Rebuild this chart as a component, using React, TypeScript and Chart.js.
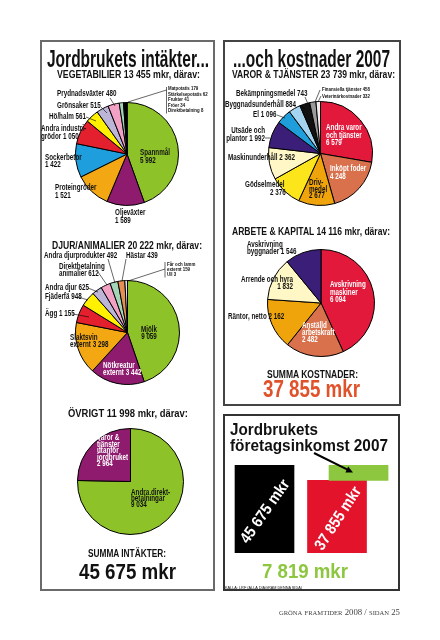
import React, { useEffect, useRef } from "react";
import { Chart, registerables } from "chart.js";
Chart.register(...registerables);

// ---------- DATA ----------
const vegTotal = 13455;
const vegCategories = ["Spannmål", "Oljeväxter", "Proteingröder", "Sockerbetor", "Andra industri-\ngrödor", "Hö/halm", "Grönsaker", "Prydnadsväxter", "Matpotatis", "Stärkelsepotatis", "Frukter", "Fröer", "Direktbetalning"];
const vegValues = [5992, 1589, 1521, 1422, 1050, 561, 515, 480, 179, 62, 41, 34, 8];
const vegColors = ["#8DC229", "#8E1B6E", "#F3A712", "#1F9EDD", "#E5202E", "#FFF100", "#BCB5D8", "#F2A0C4", "#A3D6B8", "#111111", "#111111", "#111111", "#111111"];

const djurTotal = 20222;
const djurCategories = ["Mjölk", "Nötkreatur\nexternt", "Slaktsvin\nexternt", "Ägg", "Fjäderfä", "Andra djur", "Direktbetalning\nanimalier", "Andra djurprodukter", "Hästar", "Får och lamm\nexternt", "Ull"];
const djurValues = [9059, 3442, 3298, 1155, 948, 625, 612, 492, 439, 159, 3];
const djurColors = ["#8DC229", "#8E1B6E", "#F3A712", "#E5202E", "#FFF100", "#BCB5D8", "#F2A0C4", "#A3D6B8", "#E58F55", "#FFFFFF", "#FFFFFF"];

const ovrigtTotal = 11998;
const ovrigtCategories = ["Andra direkt-\nbetalningar", "Varor &\ntjänster\nutanför\njordbruket"];
const ovrigtValues = [9034, 2964];
const ovrigtColors = ["#8DC229", "#8E1B6E"];

const varorTotal = 23739;
const varorCategories = ["Andra varor\noch tjänster", "Inköpt foder", "Driv-\nmedel", "Gödselmedel", "Maskinunderhåll", "Utsäde och\nplantor", "El", "Byggnadsunderhåll", "Bekämpningsmedel", "Finansiella tjänster", "Veterinärkostnader"];
const varorValues = [6579, 4248, 2677, 2376, 2362, 1992, 1096, 884, 743, 458, 332];
const varorColors = ["#E3193B", "#D8714C", "#F0A40C", "#FCE51A", "#FFF7C6", "#3B1E78", "#1E9EDB", "#A4D4F0", "#111111", "#9A9A9A", "#EEEEEE"];

const arbeteTotal = 14116;
const arbeteCategories = ["Avskrivning\nmaskiner", "Anställd\narbetskraft", "Räntor, netto", "Arrende och hyra", "Avskrivning\nbyggnader"];
const arbeteValues = [6094, 2482, 2162, 1832, 1546];
const arbeteColors = ["#E3193B", "#D8714C", "#F0A40C", "#FFF7C6", "#3B1E78"];

const totalIncome = 45675;
const totalCost = 37855;
const companyIncome = 7819;
const barLabels = ["Intäkter", "Kostnader", "Företagsinkomst"];
const barColors = ["#000000", "#E3132B", "#8DC63F"];

// ---------- HELPERS ----------
const fmt = (n: number) => n.toString().replace(/\B(?=(\d{3})+(?!\d))/g, " ");
const FONT = "'Liberation Sans', Arial, sans-serif";
const SX = 0.74;

type LP = { x: number; y: number; sep?: string; anchor?: "start" | "middle" | "end"; fill?: string; lh?: number; size?: number; sx?: number; dx?: number[] };

function Label({ text, p }: { text: string; p: LP }) {
  const lines = text.split("\n");
  const sx = p.sx ?? SX;
  const lh = p.lh ?? 7.5;
  return (
    <text transform={`translate(${p.x},${p.y}) scale(${sx},1)`} textAnchor={p.anchor ?? "start"} fontSize={p.size ?? 8.5} fontWeight="bold" fontFamily={FONT} fill={p.fill ?? "#111"}>
      {lines.map((l, i) => (
        <tspan key={i} x={(p.dx?.[i] ?? 0) / sx} y={i * lh}>{l}</tspan>
      ))}
    </text>
  );
}

function PieLabels({ cats, vals, pos }: { cats: string[]; vals: number[]; pos: (LP | null)[] }) {
  return (
    <g>
      {cats.map((c, i) => {
        const p = pos[i];
        if (!p) return null;
        return <Label key={i} text={c + (p.sep ?? " ") + fmt(vals[i])} p={p} />;
      })}
    </g>
  );
}

function Pie({ cats, values, colors, cx, cy, r }: { cats: string[]; values: number[]; colors: string[]; cx: number; cy: number; r: number }) {
  const ref = useRef<HTMLCanvasElement>(null);
  useEffect(() => {
    const ch = new Chart(ref.current!, {
      type: "pie",
      data: { labels: cats, datasets: [{ data: values, backgroundColor: colors, borderColor: "#000", borderWidth: 1 }] },
      options: {
        responsive: false,
        animation: false,
        layout: { padding: 0 },
        plugins: { legend: { display: false }, tooltip: { enabled: false } },
      },
    });
    return () => ch.destroy();
  }, []);
  const size = 2 * r + 2;
  return <canvas ref={ref} width={size} height={size} style={{ position: "absolute", left: cx - size / 2, top: cy - size / 2, width: size, height: size }} />;
}

function Bars() {
  const ref = useRef<HTMLCanvasElement>(null);
  useEffect(() => {
    const greenShift = 0.297;
    const ch = new Chart(ref.current!, {
      type: "bar",
      data: {
        labels: barLabels,
        datasets: [{
          data: [
            { x: 0, y: [0, totalIncome] },
            { x: 1, y: [0, totalCost] },
            { x: 1 + greenShift, y: [totalCost, totalIncome] },
          ] as any,
          backgroundColor: barColors,
          borderWidth: 0,
          barThickness: 59,
        }],
      },
      options: {
        responsive: false,
        animation: false,
        layout: { padding: 0 },
        plugins: { legend: { display: false }, tooltip: { enabled: false } },
        scales: {
          x: { type: "linear", min: -0.545, max: 1.869, offset: false, display: false },
          y: { min: 0, max: 50000, display: false },
        },
      },
    });
    return () => ch.destroy();
  }, []);
  return <canvas ref={ref} width={175} height={96} style={{ position: "absolute", left: 225, top: 457, width: 175, height: 96 }} />;
}

// ---------- LABEL LAYOUT ----------
const small = { size: 4.6, sx: 0.95, lh: 5 };
const vegPos: (LP | null)[] = [
  { x: 140, y: 155, sep: "\n", lh: 7.5 },
  { x: 115, y: 215, sep: "\n", lh: 7.5 },
  { x: 55, y: 190, sep: "\n", lh: 8 },
  { x: 45, y: 160, sep: "\n", lh: 7 },
  { x: 41, y: 131, sep: " ", lh: 8.5 },
  { x: 49, y: 119 },
  { x: 57, y: 108 },
  { x: 57, y: 96 },
  { x: 168, y: 90, ...small },
  { x: 168, y: 95.6, ...small },
  { x: 168, y: 101.2, ...small },
  { x: 168, y: 106.8, ...small },
  { x: 168, y: 112.4, ...small },
];
const djurPos: (LP | null)[] = [
  { x: 149, y: 332, sep: "\n", anchor: "middle", lh: 7 },
  { x: 103, y: 368, sep: " ", lh: 7, fill: "#fff" },
  { x: 70, y: 340, sep: " ", lh: 6.8 },
  { x: 45, y: 316 },
  { x: 45, y: 299 },
  { x: 45, y: 290 },
  { x: 59, y: 269, sep: " ", lh: 7 },
  { x: 44, y: 258 },
  { x: 126, y: 258 },
  { x: 167, y: 266, ...small },
  { x: 167, y: 276, ...small },
];
const ovrigtPos: (LP | null)[] = [
  { x: 131, y: 494.5, sep: "\n", lh: 6.4 },
  { x: 97, y: 440, sep: "\n", lh: 6.6, fill: "#fff" },
];
const varorPos: (LP | null)[] = [
  { x: 326, y: 130, sep: "\n", lh: 7.5, fill: "#fff" },
  { x: 330, y: 171, sep: "\n", lh: 7.5, fill: "#fff" },
  { x: 309, y: 185, sep: "\n", lh: 6.5 },
  { x: 245, y: 187, sep: "\n", lh: 8, dx: [0, 25] },
  { x: 228, y: 160 },
  { x: 265, y: 133, sep: " ", anchor: "end", lh: 8 },
  { x: 253, y: 117 },
  { x: 225, y: 107 },
  { x: 236, y: 96 },
  { x: 322, y: 91, ...small },
  { x: 322, y: 97.5, ...small },
];
const arbetePos: (LP | null)[] = [
  { x: 330, y: 287, sep: "\n", lh: 7.5, fill: "#fff" },
  { x: 302, y: 328, sep: "\n", lh: 7, fill: "#fff" },
  { x: 228, y: 319 },
  { x: 293, y: 282, sep: "\n", anchor: "end", lh: 7 },
  { x: 247, y: 247, sep: " ", lh: 7 },
];

function T({ x, y, size, len, children, fill = "#111", anchor = "start", weight = "bold", family = FONT }: any) {
  return (
    <text x={x} y={y} fontSize={size} fontWeight={weight} fontFamily={family} fill={fill} textAnchor={anchor} textLength={len} lengthAdjust="spacingAndGlyphs">
      {children}
    </text>
  );
}

const leaders: [number, number, number, number][] = [
  [110, 98, 115, 106], [101, 107, 107, 113], [86, 117, 96, 121], [128, 102, 166.5, 90], [166.5, 87, 166.5, 113.5],
  [108, 259, 115, 283], [126, 259, 122, 281], [98, 272, 107, 285], [88, 288, 98, 292], [78, 297, 88, 300], [73, 314, 89, 317],
  [128, 281, 165, 269], [165, 262, 165, 277.5],
  [305, 97, 308, 104], [301, 105, 305, 109], [277, 115, 285, 118], [265, 138, 270, 138], [315, 102, 320, 90], [318, 102, 321, 96],
];

export default function App() {
  useEffect(() => {
    document.body.style.margin = "0";
  }, []);
  const box = (l: number, t: number, w: number, h: number, c: string) => (
    <div style={{ position: "absolute", left: l, top: t, width: w, height: h, border: `2px solid ${c}`, boxSizing: "border-box", background: "#fff" }} />
  );
  return (
    <div style={{ position: "absolute", left: 0, top: 0, width: 440, height: 640, background: "#fff", overflow: "hidden" }}>
      {box(40, 40, 175, 551, "#6a6a6a")}
      {box(223, 40, 178, 366, "#444")}
      {box(223, 414, 177, 177, "#333")}
      <Pie cats={vegCategories} values={vegValues} colors={vegColors} cx={126.5} cy={153.5} r={51} />
      <Pie cats={djurCategories} values={djurValues} colors={djurColors} cx={127} cy={332} r={51.5} />
      <Pie cats={ovrigtCategories} values={ovrigtValues} colors={ovrigtColors} cx={130} cy={481} r={52.5} />
      <Pie cats={varorCategories} values={varorValues} colors={varorColors} cx={320} cy={153.5} r={51.5} />
      <Pie cats={arbeteCategories} values={arbeteValues} colors={arbeteColors} cx={321} cy={302.5} r={53} />
      <Bars />
      <svg width={440} height={640} style={{ position: "absolute", left: 0, top: 0, pointerEvents: "none" }}>
        <T x={47} y={67} size={24} len={162}>Jordbrukets intäkter...</T>
        <T x={233} y={67} size={24} len={157}>...och kostnader 2007</T>
        <T x={57} y={78} size={10.5} len={143}>{`VEGETABILIER ${fmt(vegTotal)} mkr, därav:`}</T>
        <T x={52} y={248.5} size={10.5} len={150}>{`DJUR/ANIMALIER ${fmt(djurTotal)} mkr, därav:`}</T>
        <T x={68} y={417} size={10.5} len={120}>{`ÖVRIGT ${fmt(ovrigtTotal)} mkr, därav:`}</T>
        <T x={232} y={78} size={10.5} len={163}>{`VAROR & TJÄNSTER ${fmt(varorTotal)} mkr, därav:`}</T>
        <T x={232} y={235} size={10.5} len={158}>{`ARBETE & KAPITAL ${fmt(arbeteTotal)} mkr, därav:`}</T>
        <T x={88} y={557} size={11} len={78}>SUMMA INTÄKTER:</T>
        <T x={79} y={579} size={22} len={97}>{`${fmt(totalIncome)} mkr`}</T>
        <T x={267} y={378} size={11} len={91}>SUMMA KOSTNADER:</T>
        <T x={263} y={397} size={23} len={97} fill="#E0522A">{`${fmt(totalCost)} mkr`}</T>
        <T x={230} y={435} size={17} len={88}>Jordbrukets</T>
        <T x={230} y={451} size={17} len={158}>företagsinkomst 2007</T>
        <T x={262} y={578} size={21} len={86} fill="#8DC63F">{`${fmt(companyIncome)} mkr`}</T>
        <g transform="translate(264.5,511) rotate(-55)">
          <text x={0} y={0} fontSize={16} fontWeight="bold" fontFamily={FONT} fill="#fff" textAnchor="middle" dominantBaseline="central" textLength={74} lengthAdjust="spacingAndGlyphs">{`${fmt(totalIncome)} mkr`}</text>
        </g>
        <g transform="translate(337.5,518) rotate(-57)">
          <text x={0} y={0} fontSize={16} fontWeight="bold" fontFamily={FONT} fill="#fff" textAnchor="middle" dominantBaseline="central" textLength={72} lengthAdjust="spacingAndGlyphs">{`${fmt(totalCost)} mkr`}</text>
        </g>
        <line x1={314} y1={453} x2={347.5} y2={469.7} stroke="#000" strokeWidth={2} />
        <polygon points="353,472.5 345.4,472.4 348.2,466.6" fill="#000" />
        <T x={225} y={589} size={4} len={77} weight="normal">KÄLLA: LRF (ALLA DIAGRAM DENNA SIDA)</T>
        <text x={400} y={615} fontSize={8} fontFamily="'Liberation Serif', 'DejaVu Serif', serif" fill="#444" textAnchor="end" textLength={121} lengthAdjust="spacingAndGlyphs" style={{ fontVariant: "small-caps" }}>gröna framtider 2008 / sidan 25</text>
        {leaders.map(([a, b, c, d], i) => <line key={i} x1={a} y1={b} x2={c} y2={d} stroke="#000" strokeWidth={0.6} />)}
        <PieLabels cats={vegCategories} vals={vegValues} pos={vegPos} />
        <PieLabels cats={djurCategories} vals={djurValues} pos={djurPos} />
        <PieLabels cats={ovrigtCategories} vals={ovrigtValues} pos={ovrigtPos} />
        <PieLabels cats={varorCategories} vals={varorValues} pos={varorPos} />
        <PieLabels cats={arbeteCategories} vals={arbeteValues} pos={arbetePos} />
      </svg>
    </div>
  );
}
